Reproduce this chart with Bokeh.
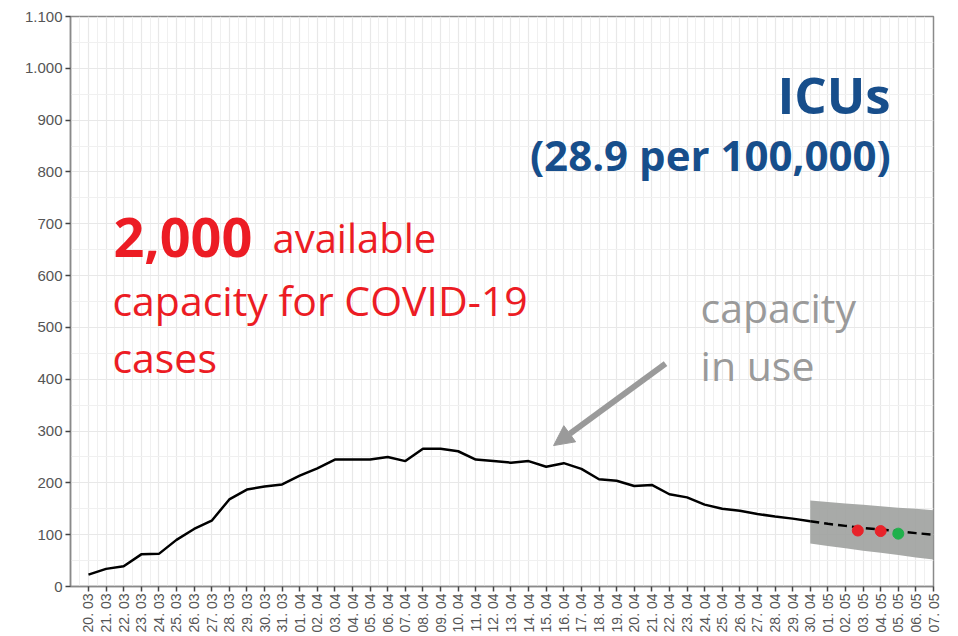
from bokeh.plotting import figure
from bokeh.models import Range1d, FixedTicker, Label, Arrow, NormalHead
from bokeh.embed import file_html
from bokeh.resources import INLINE

# ---------------- data ----------------
date_labels = [
    "20. 03", "21. 03", "22. 03", "23. 03", "24. 03", "25. 03", "26. 03", "27. 03",
    "28. 03", "29. 03", "30. 03", "31. 03",
    "01. 04", "02. 04", "03. 04", "04. 04", "05. 04", "06. 04", "07. 04", "08. 04",
    "09. 04", "10. 04", "11. 04", "12. 04", "13. 04", "14. 04", "15. 04", "16. 04",
    "17. 04", "18. 04", "19. 04", "20. 04", "21. 04", "22. 04", "23. 04", "24. 04",
    "25. 04", "26. 04", "27. 04", "28. 04", "29. 04", "30. 04",
    "01. 05", "02. 05", "03. 05", "04. 05", "05. 05", "06. 05", "07. 05",
]

# observed ICU beds in use, 20.03 .. 30.04
icu_in_use = [
    23, 34, 39, 62, 63, 90, 111, 127, 168, 187, 193, 197,
    214, 228, 245, 245, 245, 250, 242, 266, 266, 261, 245, 242,
    239, 242, 231, 238, 227, 207, 204, 194, 196, 178, 172, 158,
    150, 146, 140, 135, 131, 126,
]

# forecast 30.04 .. 07.05 (day index 41..48)
forecast_days = [41, 42, 43, 44, 45, 46, 47, 48]
forecast_mid = [126, 121, 117, 113, 110, 107, 103, 100]
forecast_low = [83, 78, 74, 69, 65, 61, 56, 52]
forecast_high = [166, 163, 160, 158, 155, 152, 150, 147]

point_days = [43.7, 45.0, 46.0]
point_values = [108, 107, 102]
point_colors = ["#e8232a", "#e8232a", "#1fb14b"]

y_ticks = [0, 100, 200, 300, 400, 500, 600, 700, 800, 900, 1000, 1100]
y_tick_labels = ["0", "100", "200", "300", "400", "500", "600", "700", "800", "900", "1.000", "1.100"]

# ---------------- figure ----------------
p = figure(
    width=958, height=636,
    output_backend="svg", toolbar_location=None,
    x_range=Range1d(-1.02, 48.0), y_range=Range1d(0, 1100),
    min_border_left=70, min_border_right=25, min_border_top=16, min_border_bottom=50,
    background_fill_color="white", border_fill_color="white",
)
p.outline_line_color = "#8a8a8a"
p.outline_line_width = 1.5

days = list(range(len(date_labels)))
p.xaxis.ticker = FixedTicker(ticks=days, minor_ticks=[d + 0.5 for d in range(-1, len(date_labels))])
p.xaxis.major_label_overrides = {d: lab for d, lab in zip(days, date_labels)}
p.xaxis.major_label_orientation = 1.5707963267948966
p.yaxis.ticker = FixedTicker(ticks=y_ticks, minor_ticks=[t + 50 for t in y_ticks[:-1]])
p.yaxis.major_label_overrides = {t: lab for t, lab in zip(y_ticks, y_tick_labels)}

for ax in (p.xaxis, p.yaxis):
    ax.axis_line_color = "#8a8a8a"
    ax.axis_line_width = 1.5
    ax.major_tick_line_color = "#444444"
    ax.major_tick_line_width = 1.5
    ax.major_tick_out = 5
    ax.major_tick_in = 0
    ax.minor_tick_line_color = None
    ax.major_label_text_font = "Liberation Sans"
    ax.major_label_text_color = "#555555"
p.yaxis.major_label_text_font_size = "15px"
p.yaxis.major_label_standoff = 3
p.xaxis.major_label_text_font_size = "14px"
p.xaxis.major_label_standoff = 2

for g in (p.xgrid, p.ygrid):
    g.grid_line_color = "#e8e8e8"
    g.grid_line_width = 1.2
    g.minor_grid_line_color = "#f0f0f0"
    g.minor_grid_line_width = 1

# forecast band
p.varea(x=forecast_days, y1=forecast_low, y2=forecast_high,
        fill_color="#9ea19e", fill_alpha=0.9)

# observed line
p.line(x=list(range(len(icu_in_use))), y=icu_in_use, line_color="black", line_width=2.5)

# forecast dashed
p.line(x=forecast_days, y=forecast_mid, line_color="black", line_width=2.5, line_dash="9 5")

# points
p.scatter(x=point_days, y=point_values, size=11, fill_color=point_colors, line_color=point_colors)

# ---------------- annotations ----------------
blue = "#174e8b"
red = "#ec1c24"
grey = "#9a9a9a"

p.add_layout(Label(x=45.57, y=950, text="ICUs", text_font="Open Sans", text_font_style="bold",
                   text_font_size="51px", text_color=blue, text_align="right", text_baseline="alphabetic"))
p.add_layout(Label(x=45.57, y=834, text="(28.9 per 100,000)", text_font="Open Sans", text_font_style="bold",
                   text_font_size="42px", text_color=blue, text_align="right", text_baseline="alphabetic"))

p.add_layout(Label(x=1.42, y=674, text="2,000", text_font="Open Sans", text_font_style="bold",
                   text_font_size="54px", text_color=red, text_align="left", text_baseline="alphabetic"))
p.add_layout(Label(x=10.45, y=674, text="available", text_font="Open Sans",
                   text_font_size="40px", text_color=red, text_align="left", text_baseline="alphabetic"))
p.add_layout(Label(x=1.36, y=552, text="capacity for COVID-19", text_font="Open Sans",
                   text_font_size="41px", text_color=red, text_align="left", text_baseline="alphabetic"))
p.add_layout(Label(x=1.36, y=442, text="cases", text_font="Open Sans",
                   text_font_size="41px", text_color=red, text_align="left", text_baseline="alphabetic"))

p.add_layout(Label(x=34.77, y=539, text="capacity", text_font="Open Sans",
                   text_font_size="41px", text_color=grey, text_align="left", text_baseline="alphabetic"))
p.add_layout(Label(x=34.77, y=427, text="in use", text_font="Open Sans",
                   text_font_size="41px", text_color=grey, text_align="left", text_baseline="alphabetic"))

p.add_layout(Arrow(x_start=32.78, y_start=430, x_end=26.42, y_end=272,
                   line_color=grey, line_width=6,
                   end=NormalHead(size=20, fill_color=grey, line_color=grey, line_width=1)))

open("out.html", "w").write(file_html(p, INLINE))
